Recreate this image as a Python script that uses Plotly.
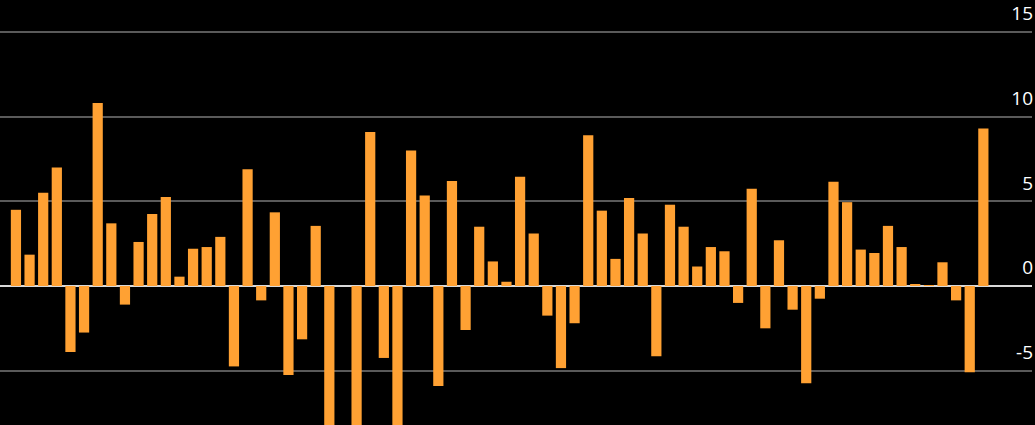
import plotly.graph_objects as go

# one value per period (three bars run below the frame)
periods = list(range(72))
values = [
    4.5, 1.85, 5.5, 7.0, -3.9, -2.75, 10.8, 3.7, -1.1, 2.6,
    4.25, 5.25, 0.55, 2.2, 2.3, 2.9, -4.75, 6.9, -0.85, 4.35,
    -5.25, -3.15, 3.55, -10.5, 0.0, -12.0, 9.1, -4.25, -9.5, 8.0,
    5.35, -5.9, 6.2, -2.6, 3.5, 1.45, 0.25, 6.45, 3.1, -1.75,
    -4.85, -2.2, 8.9, 4.45, 1.6, 5.2, 3.1, -4.15, 4.8, 3.5,
    1.15, 2.3, 2.05, -1.0, 5.75, -2.5, 2.7, -1.4, -5.75, -0.75,
    6.15, 4.95, 2.15, 1.95, 3.55, 2.3, 0.1, 0.04, 1.4, -0.85,
    -5.1, 9.3,
]
y_ticks = [-5, 0, 5, 10, 15]

fig = go.Figure()
fig.add_trace(go.Bar(x=periods, y=values, marker=dict(color='#FFA133', line=dict(width=0))))

fig.update_layout(
    width=1035,
    height=425,
    margin=dict(l=0, r=3, t=0, b=0),
    paper_bgcolor='#000000',
    plot_bgcolor='#000000',
    bargap=0.25,
    showlegend=False,
    font=dict(family="Open Sans, sans-serif", size=19, color='#e0e0e0'),
)
fig.update_xaxes(visible=False, range=[-1.17, 74.57])
fig.update_yaxes(
    side='right',
    range=[-8.21, 16.89],
    tickvals=y_ticks,
    ticktext=[str(v) for v in y_ticks],
    ticklabelposition='inside top',
    ticklabelshift=-5,
    ticklabelstandoff=-4,
    ticks='',
    showgrid=True,
    gridcolor='#5a5a5a',
    gridwidth=1.5,
    zeroline=True,
    zerolinecolor='#d9d9d9',
    zerolinewidth=2,
    showline=False,
)

# page has default body margins; drop them so the figure fills the window
fig.write_html(
    "out.html",
    config=dict(displayModeBar=False),
    post_script="document.body.style.margin='0';document.body.style.background='#000';",
)
